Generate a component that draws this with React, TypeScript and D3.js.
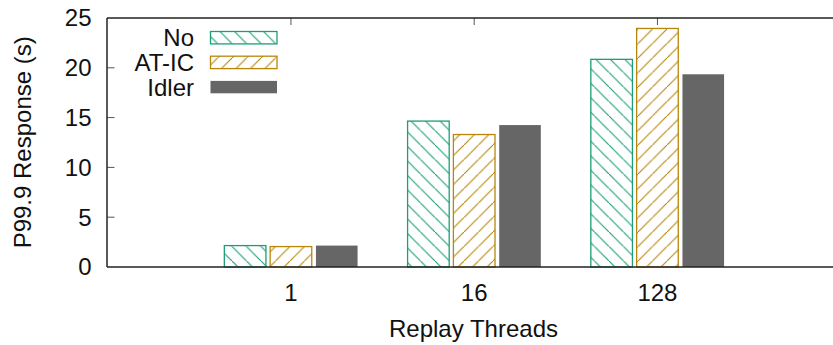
import React from "react";
import * as d3 from "d3";

const categories = ["1", "16", "128"];
const seriesNames = ["No", "AT-IC", "Idler"];
const seriesNo = [2.15, 14.65, 20.85];
const seriesATIC = [2.05, 13.3, 23.95];
const seriesIdler = [2.15, 14.25, 19.35];
const yTicks = [0, 5, 10, 15, 20, 25];

const W = 833;
const H = 345;
const left = 107;
const top = 18;
const bottom = 267;
const font = "'Liberation Sans', Arial, Helvetica, sans-serif";
const FS = 24;

const TEAL = "#1b9e77";
const GOLD = "#b8860b";
const GRAY = "#666666";

export default function App() {
  const x = d3.scaleLinear().domain([-1, 3]).range([107.7, 840.7]);
  const y = d3.scaleLinear().domain([0, 25]).range([bottom, top]);
  const stride = (x(1) - x(0)) / 4;
  const barW = stride - 4.2;
  const series = [seriesNo, seriesATIC, seriesIdler];
  const fills = ["url(#hatchNo)", "url(#hatchAT)", GRAY];
  const strokes = [TEAL, GOLD, "none"];

  return (
    <svg
      width={W}
      height={H}
      style={{ position: "absolute", left: 0, top: 0, background: "#fff" }}
      fontFamily={font}
    >
      <defs>
        <pattern id="hatchNo" patternUnits="userSpaceOnUse" width={14.5} height={14.5}>
          <line x1={0} y1={0} x2={14.5} y2={14.5} stroke={TEAL} strokeWidth={1.1} />
        </pattern>
        <pattern id="hatchAT" patternUnits="userSpaceOnUse" width={14.5} height={14.5}>
          <line x1={0} y1={14.5} x2={14.5} y2={0} stroke={GOLD} strokeWidth={1.1} />
        </pattern>
      </defs>
      <rect x={0} y={0} width={W} height={H} fill="#fff" />

      {/* bars */}
      {categories.map((c, i) =>
        series.map((s, k) => {
          const cx = x(i) + (k - 1) * stride;
          const yv = y(s[i]);
          return (
            <rect
              key={c + "-" + k}
              x={cx - barW / 2}
              y={yv}
              width={barW}
              height={bottom - yv}
              fill={fills[k]}
              stroke={strokes[k]}
              strokeWidth={1.3}
            />
          );
        })
      )}

      {/* y ticks */}
      {yTicks.map((t) => (
        <g key={"y" + t}>
          {t > 0 && t < 25 && (
            <line x1={left} x2={left + 7.5} y1={y(t)} y2={y(t)} stroke="#555" strokeWidth={1} />
          )}
          <text x={91.5} y={y(t)} dy="0.35em" textAnchor="end" fontSize={FS} fill="#111">
            {t}
          </text>
        </g>
      ))}

      {/* x ticks (top mirror) and labels */}
      {categories.map((c, i) => (
        <g key={"x" + c}>
          <line x1={x(i)} x2={x(i)} y1={top} y2={top + 7} stroke="#555" strokeWidth={1} />
          <text x={x(i)} y={301} textAnchor="middle" fontSize={FS} fill="#111">
            {c}
          </text>
        </g>
      ))}

      {/* frame */}
      <line x1={left} x2={W + 10} y1={top} y2={top} stroke="#222" strokeWidth={1.5} />
      <line x1={left} x2={W + 10} y1={bottom} y2={bottom} stroke="#222" strokeWidth={1.5} />
      <line x1={left} x2={left} y1={top} y2={bottom} stroke="#222" strokeWidth={1.5} />

      {/* axis titles */}
      <text x={473.5} y={337} textAnchor="middle" fontSize={FS} fill="#111">
        Replay Threads
      </text>
      <text
        transform={`translate(31, ${142.3}) rotate(-90)`}
        textAnchor="middle"
        fontSize={FS}
        fill="#111"
      >
        P99.9 Response (s)
      </text>

      {/* legend */}
      {seriesNames.map((n, k) => {
        const cy = 37.7 + k * 24.7;
        return (
          <g key={"lg" + n}>
            <text x={194} y={cy} dy="0.35em" textAnchor="end" fontSize={FS} fill="#111">
              {n}
            </text>
            <rect
              x={210.5}
              y={cy - 6.2}
              width={66.5}
              height={12.4}
              fill={fills[k]}
              stroke={strokes[k]}
              strokeWidth={1.3}
            />
          </g>
        );
      })}
    </svg>
  );
}
